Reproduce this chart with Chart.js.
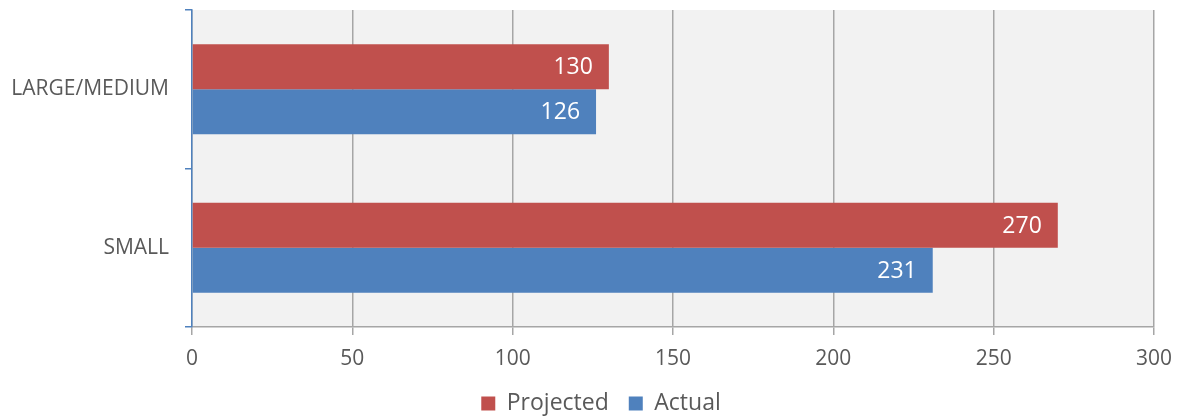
<!DOCTYPE html>
<html>
<head>
<meta charset="utf-8">
<script src="https://cdn.jsdelivr.net/npm/chart.js@4"></script>
<style>
  html, body { margin: 0; padding: 0; background: #ffffff; }
  #wrap { width: 1179px; height: 417px; }
</style>
</head>
<body>
<div id="wrap"><canvas id="grafico"></canvas></div>
<script>
// datos del grafico
const categorias = ['LARGE/MEDIUM', 'SMALL'];
const serieProjected = [130, 270];
const serieActual = [126, 231];
const nombresSeries = ['Projected', 'Actual'];
const ejeX = { min: 0, max: 300, paso: 50 };

const rojo = '#c0504d';
const azul = '#4f81bd';
const fuente = "'Open Sans', 'Noto Sans', sans-serif";

// fondo gris del area de trazado
const fondoArea = {
    id: 'fondoArea',
    beforeDraw(chart) {
        const a = chart.chartArea;
        const ctx = chart.ctx;
        ctx.save();
        ctx.fillStyle = '#f2f2f2';
        ctx.fillRect(a.left, a.top, a.right - a.left, a.bottom - a.top);
        ctx.restore();
    }
};

// desplaza la leyenda un poco a la derecha, como en la imagen
const moverLeyenda = {
    id: 'moverLeyenda',
    afterLayout(chart) {
        if (chart.legend) {
            chart.legend.left += 24;
            chart.legend.right += 24;
        }
    }
};

// etiquetas de valor dentro de las barras
const etiquetas = {
    id: 'etiquetas',
    afterDatasetsDraw(chart) {
        const ctx = chart.ctx;
        ctx.save();
        ctx.fillStyle = '#ffffff';
        ctx.font = '23px ' + fuente;
        ctx.textAlign = 'right';
        ctx.textBaseline = 'middle';
        chart.data.datasets.forEach((ds, i) => {
            chart.getDatasetMeta(i).data.forEach((bar, j) => {
                ctx.fillText(String(ds.data[j]), bar.x - 16, bar.y + 1);
            });
        });
        ctx.restore();
    }
};

new Chart(document.getElementById('grafico'), {
    type: 'bar',
    data: {
        labels: categorias,
        datasets: [
            { label: nombresSeries[0], data: serieProjected, backgroundColor: rojo },
            { label: nombresSeries[1], data: serieActual, backgroundColor: azul }
        ]
    },
    options: {
        indexAxis: 'y',
        responsive: true,
        maintainAspectRatio: false,
        animation: false,
        layout: { padding: { top: 10, right: 25, bottom: -8, left: 0 } },
        datasets: { bar: { categoryPercentage: 0.567, barPercentage: 1.0 } },
        scales: {
            x: {
                min: ejeX.min,
                max: ejeX.max,
                ticks: { stepSize: ejeX.paso, color: '#595959', font: { size: 21, family: fuente }, padding: 11 },
                grid: { color: '#a6a6a6', lineWidth: 1.5, tickLength: 8 },
                border: { color: '#a6a6a6', width: 1.5 },
                afterFit(scale) { scale.height = 45; scale.paddingLeft = 0; scale.paddingRight = 0; }
            },
            y: {
                ticks: { color: '#595959', font: { size: 21, family: fuente }, padding: 16 },
                grid: { drawOnChartArea: false, color: azul, tickLength: 7, lineWidth: 1.5 },
                border: { color: azul, width: 1.5 },
                afterFit(scale) { scale.width = 192; scale.paddingTop = 0; scale.paddingBottom = 0; }
            }
        },
        plugins: {
            legend: {
                position: 'bottom',
                labels: {
                    color: '#595959',
                    font: { size: 23, family: fuente },
                    boxWidth: 14,
                    boxHeight: 14,
                    padding: 20
                }
            },
            tooltip: { enabled: false }
        }
    },
    plugins: [fondoArea, moverLeyenda, etiquetas]
});
</script>
</body>
</html>
